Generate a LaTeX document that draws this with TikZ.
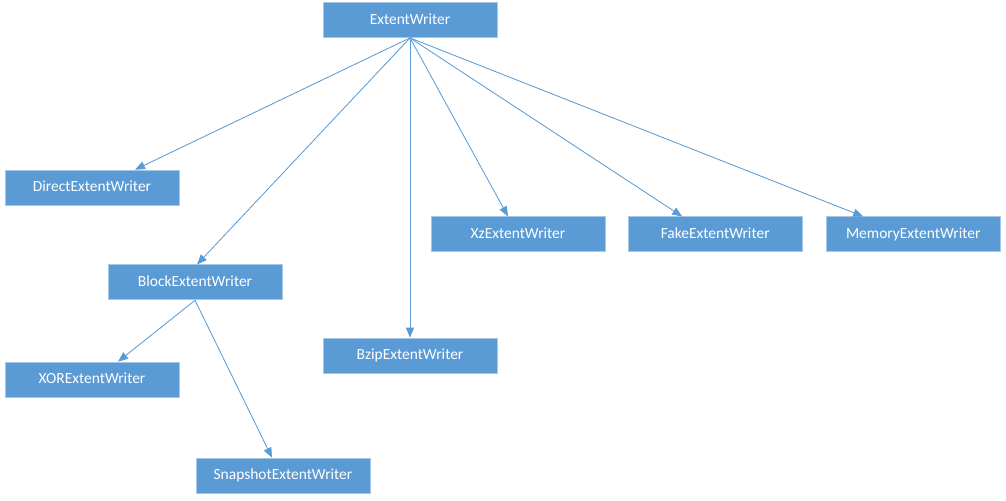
\documentclass[tikz,border=0pt]{standalone}
\usepackage{fontspec}
\setmainfont{Carlito}
\usetikzlibrary{arrows.meta}
\definecolor{boxblue}{HTML}{5B9BD5}
\definecolor{boxedge}{HTML}{A8C6E6}
\begin{document}
\begin{tikzpicture}[writer/.style={draw=boxedge,line width=0.6pt,fill=boxblue,text=white,align=center,minimum width=4.35cm,minimum height=0.875cm,inner sep=2pt,text height=1.6ex,text depth=0.4ex,font=\fontsize{11}{13}\selectfont},link/.style={-{Triangle[length=2.5mm,width=2mm]},boxblue,line width=0.6pt}]
\useasboundingbox (0,0) rectangle (25.15,-12.5);
\node[writer] (extent) at (10.25,-0.5){ExtentWriter};
\node[writer] (direct) at (2.3,-4.69){DirectExtentWriter};
\node[writer] (xz) at (12.95,-5.86){XzExtentWriter};
\node[writer] (fake) at (17.88,-5.86){FakeExtentWriter};
\node[writer] (memory) at (22.83,-5.86){MemoryExtentWriter};
\node[writer] (block) at (4.875,-7.06){BlockExtentWriter};
\node[writer] (bzip) at (10.25,-8.89){BzipExtentWriter};
\node[writer] (xor) at (2.3,-9.49){XORExtentWriter};
\node[writer] (snapshot) at (7.075,-11.89){SnapshotExtentWriter};
\draw[link] (extent.south) -- ([xshift=1.075cm]direct.north);
\draw[link] (extent.south) -- ([xshift=0.05cm]block.north);
\draw[link] (extent.south) -- (bzip.north);
\draw[link] (extent.south) -- ([xshift=-0.25cm]xz.north);
\draw[link] (extent.south) -- ([xshift=-0.825cm]fake.north);
\draw[link] (extent.south) -- ([xshift=-1.25cm]memory.north);
\draw[link] (block.south) -- ([xshift=0.65cm]xor.north);
\draw[link] (block.south) -- ([xshift=-0.275cm]snapshot.north);
\end{tikzpicture}
\end{document}
